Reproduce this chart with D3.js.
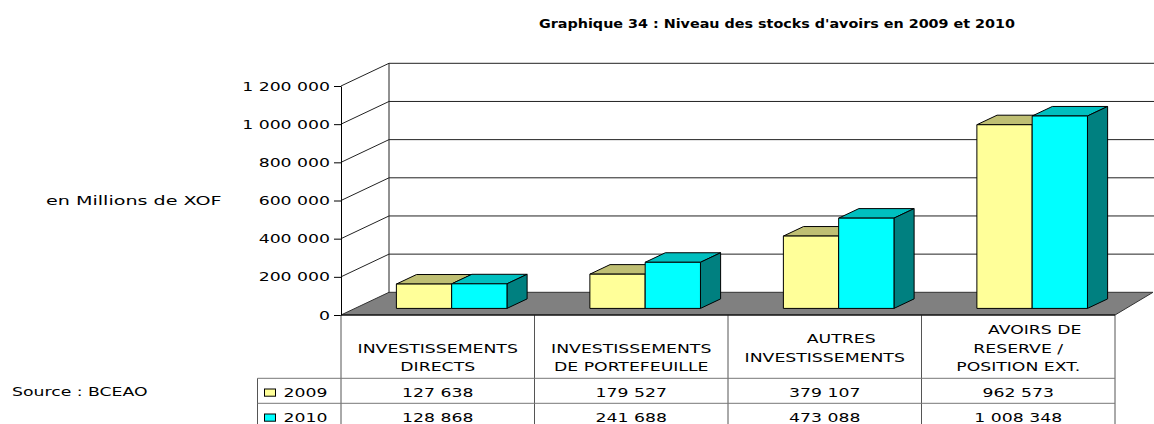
<!DOCTYPE html>
<html>
<head>
<meta charset="utf-8">
<script src="https://cdn.jsdelivr.net/npm/d3@7"></script>
<style>
  html, body { margin: 0; padding: 0; background: #fff; }
  svg { display: block; }
  text { font-family: "DejaVu Sans", Verdana, sans-serif; fill: #000; }
</style>
</head>
<body>
<svg id="chart" width="1154" height="424"></svg>
<script>
// ---- data ----
const title = "Graphique 34 : Niveau des stocks d'avoirs en 2009 et 2010";
const categories = [
  "\nINVESTISSEMENTS\nDIRECTS",
  "\nINVESTISSEMENTS\nDE PORTEFEUILLE",
  "      AUTRES\nINVESTISSEMENTS",
  "      AVOIRS DE\nRESERVE /\nPOSITION EXT."
];
const seriesNames = ["2009", "2010"];
const values2009 = [127638, 179527, 379107, 962573];
const values2010 = [128868, 241688, 473088, 1008348];
const yTicks = [0, 200000, 400000, 600000, 800000, 1000000, 1200000];
const unitLabel = "en Millions de XOF";
const sourceLabel = "Source : BCEAO";

const seriesValues = [values2009, values2010];
// front / top / side shading of each series
const seriesColors = [
  { front: "#FFFF99", top: "#BFBF73", side: "#80804D" },
  { front: "#00FFFF", top: "#00BFBF", side: "#008080" }
];

// ---- layout ----
const W = 1154, H = 424;
const plot = { left: 341, right: 1115, base: 315, top: 86, dx: 48, dy: 22.7, backRight: 1153 };
const depth = { front: 0.29, back: 0.71 };
const table = { legendLeft: 257.5, headerBottom: 378.3, rowH: 25, textOffset: 14.3, headerMid: 348.3, lineH: 18.4 };
const FS = 12.5;      // body font size
const SX = 1.38;      // horizontal stretch of body text

const svg = d3.select("#chart");
const fmt = d3.formatLocale({ decimal: ",", thousands: " ", grouping: [3], currency: ["", ""] }).format(",d");

const x = d3.scaleBand().domain(d3.range(categories.length)).range([plot.left, plot.right]);
const xs = d3.scaleBand().domain(seriesNames).range([0, x.bandwidth()]).paddingInner(0).paddingOuter(0.75);
const y = d3.scaleLinear().domain([0, 1200000]).range([plot.base, plot.top]);

// oblique projection: t = 0 front plane, t = 1 back wall
const P = (px, py, t) => [px + t * plot.dx, py - t * plot.dy];

function stretch(sel, k) {
  sel.each(function () {
    const w = this.getComputedTextLength();
    if (w > 0) d3.select(this).attr("textLength", w * k).attr("lengthAdjust", "spacingAndGlyphs");
  });
}

// ---- title ----
svg.append("text")
  .attr("x", 777).attr("y", 27.5)
  .attr("text-anchor", "middle")
  .attr("font-weight", "bold")
  .attr("font-size", 12)
  .attr("textLength", 476).attr("lengthAdjust", "spacingAndGlyphs")
  .text(title);

// ---- walls ----
const walls = svg.append("g");
const gridVals = yTicks.filter(v => v > 0);

// floor
walls.append("polygon")
  .attr("points", [
    P(plot.left, y(0), 0), P(plot.right, y(0), 0),
    [plot.backRight, y(0) - plot.dy], P(plot.left, y(0), 1)
  ].map(p => p.join(",")).join(" "))
  .attr("fill", "#808080").attr("stroke", "#333").attr("stroke-width", 1);

// back wall gridlines
walls.selectAll("line.back").data(gridVals).join("line")
  .attr("class", "back")
  .attr("x1", d => P(plot.left, y(d), 1)[0]).attr("y1", d => P(plot.left, y(d), 1)[1])
  .attr("x2", W).attr("y2", d => y(d) - plot.dy)
  .attr("stroke", "#222").attr("stroke-width", 1);

// side wall gridlines
walls.selectAll("line.side").data(gridVals).join("line")
  .attr("class", "side")
  .attr("x1", plot.left).attr("y1", d => y(d))
  .attr("x2", d => P(plot.left, y(d), 1)[0]).attr("y2", d => P(plot.left, y(d), 1)[1])
  .attr("stroke", "#222").attr("stroke-width", 1);

// back wall left edge
walls.append("line")
  .attr("x1", P(plot.left, y(0), 1)[0]).attr("y1", P(plot.left, y(0), 1)[1])
  .attr("x2", P(plot.left, y(1200000), 1)[0]).attr("y2", P(plot.left, y(1200000), 1)[1])
  .attr("stroke", "#222").attr("stroke-width", 1);

// ---- bars ----
const bars = svg.append("g").attr("stroke", "#000").attr("stroke-width", 1).attr("stroke-linejoin", "round");
const pts = arr => arr.map(p => p.join(",")).join(" ");
categories.forEach((c, i) => {
  seriesNames.forEach((s, j) => {
    const v = seriesValues[j][i];
    const x0 = x(i) + xs(s), x1 = x0 + xs.bandwidth();
    const yv = y(v), yb = y(0);
    const t0 = depth.front, t1 = depth.back;
    const col = seriesColors[j];
    bars.append("polygon").attr("fill", col.top)
      .attr("points", pts([P(x0, yv, t0), P(x1, yv, t0), P(x1, yv, t1), P(x0, yv, t1)]));
    bars.append("polygon").attr("fill", col.side)
      .attr("points", pts([P(x1, yb, t0), P(x1, yv, t0), P(x1, yv, t1), P(x1, yb, t1)]));
    bars.append("polygon").attr("fill", col.front)
      .attr("points", pts([P(x0, yb, t0), P(x0, yv, t0), P(x1, yv, t0), P(x1, yb, t0)]));
  });
});

// ---- value axis ----
const axis = svg.append("g")
  .attr("transform", `translate(${plot.left},0)`)
  .call(d3.axisLeft(y).tickValues(yTicks).tickFormat(fmt).tickSize(7).tickSizeOuter(0).tickPadding(4));
axis.attr("font-family", null).attr("font-size", null);
axis.select(".domain").attr("stroke", "#000");
axis.selectAll(".tick line").attr("stroke", "#000");
axis.selectAll(".tick text").attr("font-size", FS).attr("fill", "#000").call(stretch, SX);

// unit and source labels
svg.append("text").attr("x", 46).attr("y", y(600000)).attr("dy", "0.35em")
  .attr("font-size", FS).text(unitLabel).call(stretch, 1.53);
svg.append("text").attr("x", 12).attr("y", 391.7).attr("dy", "0.35em")
  .attr("font-size", FS).text(sourceLabel).call(stretch, SX);

// ---- data table ----
const tbl = svg.append("g");
const rowTop = j => table.headerBottom + j * table.rowH;
const colEdges = x.domain().map(i => x(i)).concat([plot.right]);

// header labels
categories.forEach((c, i) => {
  const lines = c.split("\n");
  const n = lines.length;
  lines.forEach((ln, k) => {
    if (!ln.trim()) return;
    tbl.append("text")
      .attr("x", x(i) + x.bandwidth() / 2)
      .attr("y", table.headerMid + (k - (n - 1) / 2) * table.lineH)
      .attr("dy", "0.35em")
      .attr("text-anchor", "middle")
      .attr("font-size", FS)
      .style("white-space", "pre")
      .text(ln)
      .call(stretch, SX);
  });
});

// value rows with legend keys
seriesNames.forEach((s, j) => {
  const top = rowTop(j);
  const cy = top + table.textOffset;
  tbl.append("rect")
    .attr("x", 264.5).attr("y", cy - 3.6).attr("width", 11).attr("height", 7.2)
    .attr("fill", seriesColors[j].front).attr("stroke", "#000").attr("stroke-width", 1);
  tbl.append("text").attr("x", 283.5).attr("y", cy).attr("dy", "0.35em")
    .attr("font-size", FS).text(s).call(stretch, SX);
  seriesValues[j].forEach((v, i) => {
    tbl.append("text")
      .attr("x", x(i) + x.bandwidth() / 2).attr("y", cy).attr("dy", "0.35em")
      .attr("text-anchor", "middle").attr("font-size", FS)
      .text(fmt(v)).call(stretch, SX);
  });
});

// grid of the table
const tableBottom = rowTop(seriesNames.length);
colEdges.forEach(cx => {
  tbl.append("line").attr("x1", cx).attr("x2", cx).attr("y1", plot.base).attr("y2", tableBottom)
    .attr("stroke", "#555").attr("stroke-width", 1);
});
tbl.append("line").attr("x1", table.legendLeft).attr("x2", table.legendLeft)
  .attr("y1", table.headerBottom).attr("y2", tableBottom).attr("stroke", "#555");
d3.range(seriesNames.length + 1).forEach(j => {
  tbl.append("line").attr("x1", table.legendLeft).attr("x2", plot.right)
    .attr("y1", rowTop(j)).attr("y2", rowTop(j)).attr("stroke", "#777");
});
// front edge of the floor
tbl.append("line").attr("x1", plot.left).attr("x2", plot.right)
  .attr("y1", plot.base).attr("y2", plot.base).attr("stroke", "#000");
</script>
</body>
</html>
